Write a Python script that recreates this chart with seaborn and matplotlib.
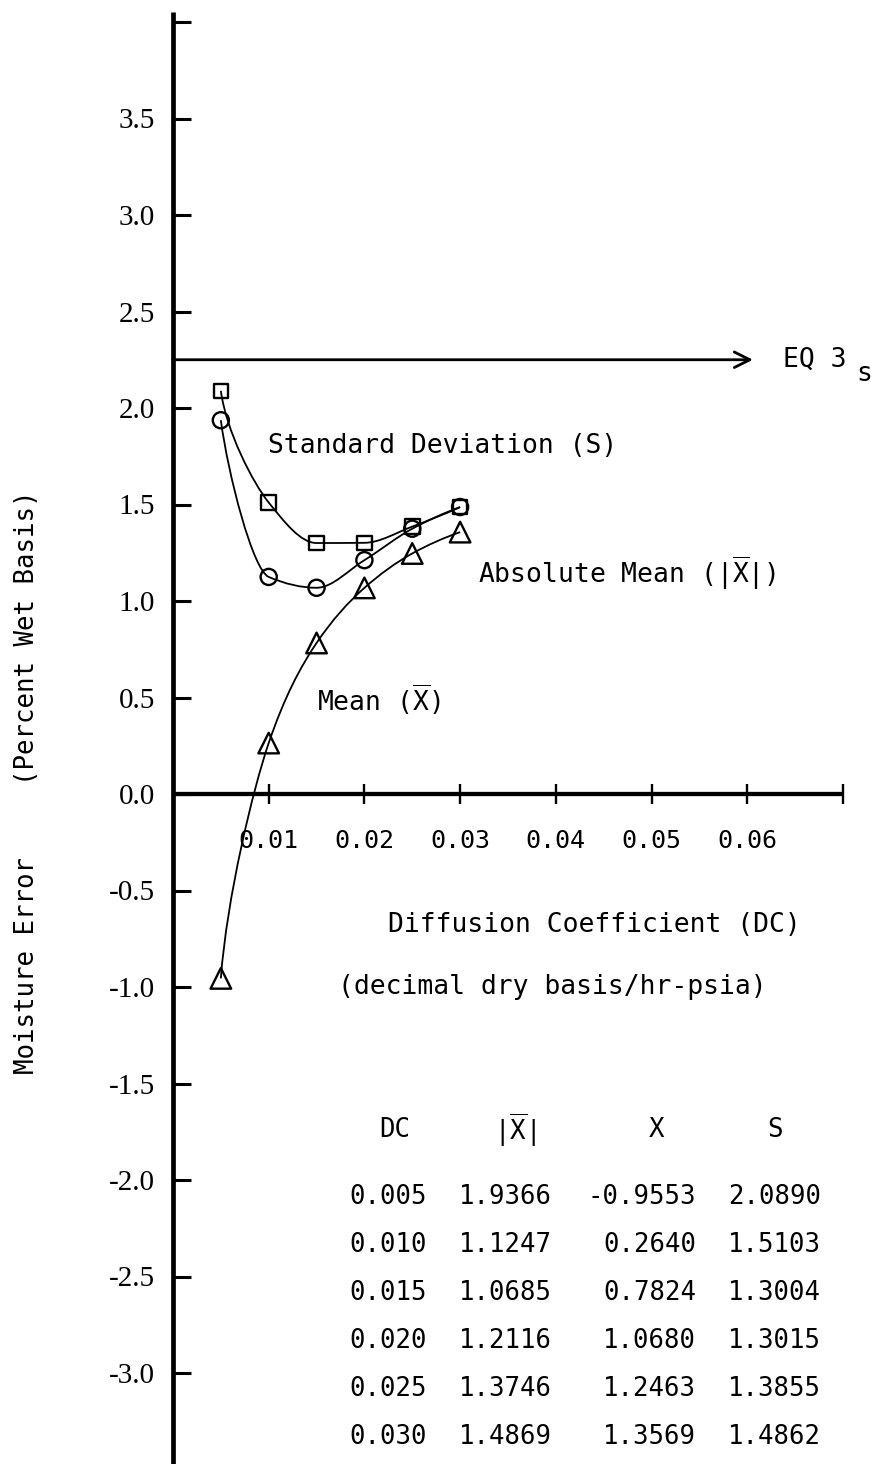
import numpy as np
import matplotlib
matplotlib.use("Agg")
import matplotlib.pyplot as plt
from matplotlib.path import Path
from matplotlib.patches import PathPatch
import seaborn as sns

# Diffusion coefficient runs and the resulting moisture error statistics
dc = [0.005, 0.010, 0.015, 0.020, 0.025, 0.030]
abs_mean = [1.9366, 1.1247, 1.0685, 1.2116, 1.3746, 1.4869]
mean = [-0.9553, 0.2640, 0.7824, 1.0680, 1.2463, 1.3569]
std_dev = [2.0890, 1.5103, 1.3004, 1.3015, 1.3855, 1.4862]

x_ticks = [0.01, 0.02, 0.03, 0.04, 0.05, 0.06, 0.07]
x_tick_labels = ["0.01", "0.02", "0.03", "0.04", "0.05", "0.06", ""]
y_ticks = [-3.0, -2.5, -2.0, -1.5, -1.0, -0.5, 0.0, 0.5, 1.0, 1.5,
           2.0, 2.5, 3.0, 3.5, 4.0]
y_tick_labels = ["-3.0", "-2.5", "-2.0", "-1.5", "-1.0", "-0.5", "0.0",
                 "0.5", "1.0", "1.5", "2.0", "2.5", "3.0", "3.5", ""]
eq3_level = 2.25

XBAR = r"$\overline{\mathrm{X}}$"
MONO = "DejaVu Sans Mono"
SERIF = "Liberation Serif"
INK = "black"

sns.set_theme(style="white")
plt.rcParams.update({
    "font.family": [MONO, "DejaVu Sans"],
    "font.size": 18,
    "text.color": INK,
    "axes.labelcolor": INK,
    "xtick.color": INK,
    "ytick.color": INK,
    "axes.unicode_minus": False,
    "mathtext.fontset": "custom",
    "mathtext.rm": MONO,
    "mathtext.it": MONO,
    "mathtext.bf": MONO,
    "mathtext.sf": MONO,
    "mathtext.tt": MONO,
    "mathtext.cal": MONO,
})

W, H = 871, 1464
fig = plt.figure(figsize=(W / 100, H / 100), dpi=100)
fig.patch.set_facecolor("white")
ax = fig.add_axes([0, 0, 1, 1])
ax.set_facecolor("white")

# origin placed inside the page, typed-report style
ax.set_xlim(-173 / 9570, (W - 173) / 9570)
ax.set_ylim(-(H - 794) / 193, 794 / 193)


def fig_xy(px, py):
    """Pixel position on the page -> figure fraction."""
    return px / W, 1 - py / H


# ---- axes lines ----
ax.spines["top"].set_visible(False)
ax.spines["right"].set_visible(False)
ax.spines["left"].set_position(("data", 0))
ax.spines["bottom"].set_position(("data", 0))
ax.spines["left"].set_bounds(-3.48, 4.05)
ax.spines["bottom"].set_bounds(0, 0.07)
ax.spines["left"].set_linewidth(3.4)
ax.spines["bottom"].set_linewidth(3.1)
for side in ("left", "bottom"):
    ax.spines[side].set_color(INK)
    ax.spines[side].set_capstyle("butt")

ax.set_xticks(x_ticks)
ax.set_xticklabels(x_tick_labels, fontfamily=MONO, fontsize=18)
ax.set_yticks(y_ticks)
ax.set_yticklabels(y_tick_labels, fontfamily=SERIF, fontsize=21)
ax.xaxis.set_ticks_position("bottom")
ax.yaxis.set_ticks_position("left")
ax.tick_params(axis="x", direction="inout", length=15, width=1.7,
               pad=18, colors=INK)
ax.tick_params(axis="y", direction="in", length=13, width=2.2,
               pad=13, colors=INK)
ax.grid(False)


# ---- smooth curves through the points (piecewise cubic Beziers) ----
def smooth_curve(xs, ys):
    disp = ax.transData.transform(np.column_stack([xs, ys]))
    n = len(disp)
    h = disp[1:, 0] - disp[:-1, 0]
    slope = (disp[1:, 1] - disp[:-1, 1]) / h
    tang = [None] * n
    for i in range(1, n - 1):
        a, b = slope[i - 1], slope[i]
        m = 0.0 if a * b <= 0 else 2.0 / (1.0 / a + 1.0 / b)
        step = 0.5 * (h[i - 1] + h[i])
        tang[i] = np.array([step, m * step])

    def end_tangent(chord, inner):
        u = chord / np.linalg.norm(chord)
        refl = 2 * np.dot(inner, u) * u - inner
        if refl[0] < 0.12 * abs(chord[0]):
            refl[0] = 0.12 * abs(chord[0])
        refl = refl / np.linalg.norm(refl)
        return refl * np.linalg.norm(chord)

    tang[0] = end_tangent(disp[1] - disp[0], tang[1])
    tang[-1] = end_tangent(disp[-1] - disp[-2], tang[-2])

    verts = [disp[0]]
    codes = [Path.MOVETO]
    for i in range(n - 1):
        verts += [disp[i] + tang[i] / 3, disp[i + 1] - tang[i + 1] / 3,
                  disp[i + 1]]
        codes += [Path.CURVE4] * 3
    data_verts = ax.transData.inverted().transform(np.array(verts))
    return Path(data_verts, codes)


for values in (std_dev, abs_mean, mean):
    ax.add_patch(PathPatch(smooth_curve(dc, values), facecolor="none",
                           edgecolor=INK, lw=1.3, zorder=3))

marker_kw = dict(facecolor="none", edgecolor=INK, linewidth=1.7,
                 zorder=4, legend=False, ax=ax)
sns.scatterplot(x=dc, y=std_dev, marker="s", s=110, **marker_kw)
sns.scatterplot(x=dc, y=abs_mean, marker="o", s=135, **marker_kw)
sns.scatterplot(x=dc, y=mean, marker="^", s=220, **marker_kw)

# ---- EQ 3 reference level ----
ax.annotate("", xy=(0.0606, eq3_level), xytext=(0.0, eq3_level),
            arrowprops=dict(arrowstyle="->", lw=2.0, color=INK,
                            mutation_scale=28, shrinkA=0, shrinkB=0))
ax.text(*fig_xy(783, 360), "EQ 3", transform=fig.transFigure,
        ha="left", va="center", fontsize=19)
ax.text(*fig_xy(856, 374), "s", transform=fig.transFigure,
        ha="left", va="center", fontsize=19)

# ---- curve labels ----
ax.text(*fig_xy(268, 446), "Standard Deviation (S)",
        transform=fig.transFigure, ha="left", va="center", fontsize=19)
ax.text(*fig_xy(478, 573), "Absolute Mean (|" + XBAR + "|)",
        transform=fig.transFigure, ha="left", va="center", fontsize=19)
ax.text(*fig_xy(317, 700), "Mean (" + XBAR + ")",
        transform=fig.transFigure, ha="left", va="center", fontsize=19)

# ---- axis titles ----
ax.text(*fig_xy(388, 925), "Diffusion Coefficient (DC)",
        transform=fig.transFigure, ha="left", va="center", fontsize=19)
ax.text(*fig_xy(338, 987), "(decimal dry basis/hr-psia)",
        transform=fig.transFigure, ha="left", va="center", fontsize=19)
ax.text(*fig_xy(27, 965), "Moisture Error", transform=fig.transFigure,
        rotation=90, ha="center", va="center", fontsize=18.5)
ax.text(*fig_xy(27, 638), "(Percent Wet Basis)", transform=fig.transFigure,
        rotation=90, ha="center", va="center", fontsize=18.5)

# ---- data table ----
header_y = 1130
header_cols = [(395, "DC"), (515, "|" + XBAR + "|"), (657, "X"), (775, "S")]
for cx, label in header_cols:
    ax.text(*fig_xy(cx, header_y), label, transform=fig.transFigure,
            ha="center", va="center", fontsize=18.5)

col_right = [427, 552, 696, 821]
for i in range(len(dc)):
    row_y = 1197 + 48 * i
    cells = [f"{dc[i]:.3f}", f"{abs_mean[i]:.4f}", f"{mean[i]:.4f}",
             f"{std_dev[i]:.4f}"]
    for rx, cell in zip(col_right, cells):
        ax.text(*fig_xy(rx, row_y), cell, transform=fig.transFigure,
                ha="right", va="center", fontsize=18.5)

fig.savefig("out.png", dpi=100, facecolor="white")
